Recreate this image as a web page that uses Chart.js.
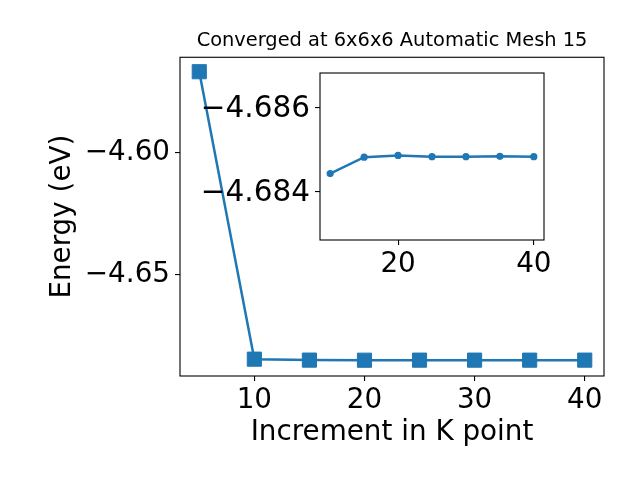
<!DOCTYPE html>
<html>
<head>
<meta charset="utf-8">
<script src="https://cdn.jsdelivr.net/npm/chart.js@4.4.0/dist/chart.umd.min.js"></script>
<style>
    body { margin: 0; background: #fff; }
    #wrap { position: relative; width: 640px; height: 480px; }
    canvas { position: absolute; left: 0; top: 0; }
</style>
</head>
<body>
<div id="wrap">
    <canvas id="mainChart" width="640" height="480"></canvas>
    <canvas id="insetChart" width="640" height="480"></canvas>
</div>
<script>
// Data
const kPoints = [5, 10, 15, 20, 25, 30, 35, 40];
const energies = [-4.5670, -4.68442, -4.68481, -4.68485, -4.68482, -4.68482, -4.68483, -4.68482];

// Tick labels
const mainXTicks = [10, 20, 30, 40];
const mainYTicks = [-4.65, -4.60];
const insetXTicks = [20, 40];
const insetYTicks = [-4.686, -4.684];

const BLUE = '#1f77b4';
const TICK_FONT = { family: 'DejaVu Sans', size: 27.8 };

Chart.defaults.font.family = 'DejaVu Sans';
Chart.defaults.color = '#000';

// Minus sign like matplotlib
function fmt(v, digits) {
    return v.toFixed(digits).replace('-', '\u2212');
}

// Draw the black box around the plot area
const framePlugin = {
    id: 'frame',
    afterDatasetsDraw(chart) {
        const { ctx, chartArea: a } = chart;
        ctx.save();
        ctx.strokeStyle = '#000';
        ctx.lineWidth = 1.1;
        ctx.strokeRect(a.left, a.top, a.right - a.left, a.bottom - a.top);
        ctx.restore();
    }
};

function setTicks(values) {
    return scale => { scale.ticks = values.map(v => ({ value: v })); };
}

function axisGrid() {
    return { drawOnChartArea: false, drawTicks: true, tickLength: 5, color: '#000', lineWidth: 1.1 };
}

// Main chart
const mainChart = new Chart(document.getElementById('mainChart'), {
    type: 'line',
    data: {
        datasets: [{
            data: kPoints.map((k, i) => ({ x: k, y: energies[i] })),
            borderColor: BLUE,
            backgroundColor: BLUE,
            borderWidth: 2.5,
            pointStyle: 'rect',
            pointRadius: 10,
            pointBorderWidth: 1,
            tension: 0
        }]
    },
    options: {
        responsive: false,
        animation: false,
        devicePixelRatio: 1,
        layout: { padding: { left: 0, right: 36, top: 0, bottom: 0 } },
        plugins: {
            legend: { display: false },
            tooltip: { enabled: false },
            title: {
                display: true,
                fullSize: false,
                text: 'Converged at 6x6x6 Automatic Mesh 15',
                font: { size: 19.4, weight: 'normal' },
                color: '#000',
                padding: { top: 29, bottom: 5 }
            }
        },
        scales: {
            x: {
                type: 'linear',
                min: 3.25,
                max: 41.75,
                afterBuildTicks: setTicks(mainXTicks),
                afterFit: scale => { scale.height = 104; },
                grid: axisGrid(),
                border: { display: false },
                ticks: { font: TICK_FONT, padding: 3, autoSkip: false, maxRotation: 0, callback: v => String(v) },
                title: { display: true, text: 'Increment in K point', font: TICK_FONT, padding: { top: 0, bottom: 31 } }
            },
            y: {
                type: 'linear',
                min: -4.6913,
                max: -4.5611,
                afterBuildTicks: setTicks(mainYTicks),
                afterFit: scale => { scale.width = 180; },
                grid: axisGrid(),
                border: { display: false },
                ticks: { font: TICK_FONT, padding: 5, autoSkip: false, callback: v => fmt(v, 2) },
                title: { display: true, text: 'Energy (eV)', font: TICK_FONT, padding: { top: 46, bottom: 0 } }
            }
        }
    },
    plugins: [framePlugin]
});

// Inset chart, drawn on a transparent canvas over the main one
const insetChart = new Chart(document.getElementById('insetChart'), {
    type: 'line',
    data: {
        datasets: [{
            data: kPoints.slice(1).map((k, i) => ({ x: k, y: energies[i + 1] })),
            borderColor: BLUE,
            backgroundColor: BLUE,
            borderWidth: 2.5,
            pointStyle: 'circle',
            pointRadius: 3.6,
            pointBorderWidth: 0,
            tension: 0
        }]
    },
    options: {
        responsive: false,
        animation: false,
        devicePixelRatio: 1,
        layout: { padding: { left: 190, right: 96, top: 73, bottom: 180 } },
        plugins: {
            legend: { display: false },
            tooltip: { enabled: false }
        },
        scales: {
            x: {
                type: 'linear',
                min: 8.5,
                max: 41.5,
                afterBuildTicks: setTicks(insetXTicks),
                afterFit: scale => { scale.height = 60; },
                grid: axisGrid(),
                border: { display: false },
                ticks: { font: TICK_FONT, padding: 3, autoSkip: false, maxRotation: 0, callback: v => String(v) }
            },
            y: {
                type: 'linear',
                reverse: true,
                min: -4.68681,
                max: -4.68284,
                afterBuildTicks: setTicks(insetYTicks),
                afterFit: scale => { scale.width = 130; },
                grid: axisGrid(),
                border: { display: false },
                ticks: { font: { family: 'DejaVu Sans', size: 29.5 }, padding: 5, labelOffset: 2, autoSkip: false, callback: v => fmt(v, 3) }
            }
        }
    },
    plugins: [framePlugin]
});
</script>
</body>
</html>
